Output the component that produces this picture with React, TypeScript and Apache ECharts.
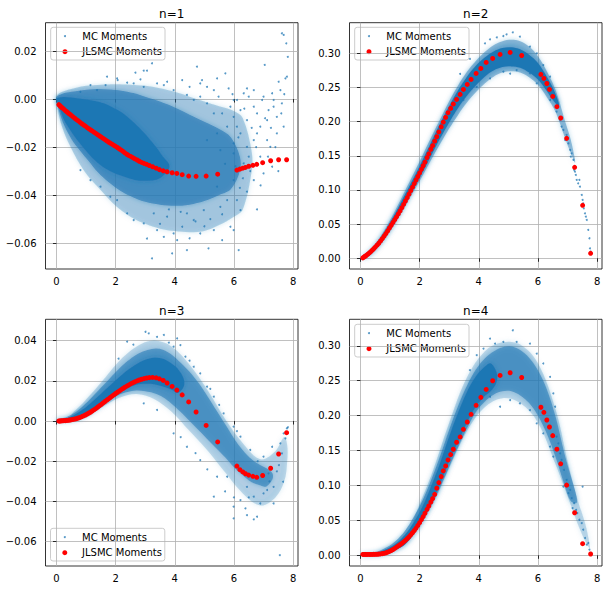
import React, { useEffect, useRef } from "react";
import * as echarts from "echarts";

const BLUE = "#1f77b4";
const RED = "#ff0000";
const FONT = "DejaVu Sans";

const TITLES = ["n=1", "n=2", "n=3", "n=4"];
const LEGEND_NAMES = ["MC Moments", "JLSMC Moments"];
const X_TICKS = [0, 2, 4, 6, 8];
const Y_TICKS_N1 = [-0.06, -0.04, -0.02, 0, 0.02];
const Y_TICKS_N2 = [0, 0.05, 0.1, 0.15, 0.2, 0.25, 0.3];
const Y_TICKS_N3 = [-0.06, -0.04, -0.02, 0, 0.02, 0.04];
const Y_TICKS_N4 = [0, 0.05, 0.1, 0.15, 0.2, 0.25, 0.3];

// JLSMC Moments (red) — shared x positions
const JLSMC_X = [
  0.08, 0.12, 0.16, 0.2, 0.25, 0.3, 0.35, 0.4, 0.45, 0.5,
  0.56, 0.62, 0.68, 0.74, 0.8, 0.86, 0.92, 0.98, 1.04, 1.1,
  1.16, 1.22, 1.28, 1.34, 1.4, 1.46, 1.52, 1.58, 1.64, 1.7,
  1.76, 1.82, 1.88, 1.94, 2.0, 2.06, 2.12, 2.18, 2.25, 2.31,
  2.38, 2.44, 2.51, 2.58, 2.65, 2.73, 2.8, 2.88, 2.96, 3.05,
  3.14, 3.25, 3.37, 3.48, 3.61, 3.74, 3.91, 4.07, 4.25, 4.47,
  4.72, 5.06, 5.45, 6.1, 6.2, 6.3, 6.39, 6.5, 6.64, 6.77,
  6.97, 7.24, 7.51, 7.78,
];
const JLSMC_N1 = [
  -0.0023, -0.0028, -0.0033, -0.0037, -0.0042, -0.0048, -0.0053, -0.0058, -0.0063, -0.0068,
  -0.0074, -0.008, -0.0086, -0.0091, -0.0097, -0.0103, -0.0108, -0.0113, -0.0119, -0.0124,
  -0.0129, -0.0134, -0.0139, -0.0144, -0.0149, -0.0154, -0.0159, -0.0164, -0.0169, -0.0174,
  -0.0179, -0.0184, -0.0188, -0.0193, -0.0197, -0.0202, -0.0207, -0.0212, -0.0218, -0.0224,
  -0.023, -0.0235, -0.0239, -0.0244, -0.0249, -0.0254, -0.0259, -0.0264, -0.0268, -0.0272,
  -0.0277, -0.0282, -0.0288, -0.0294, -0.0299, -0.0303, -0.0307, -0.031, -0.0315, -0.0321,
  -0.0322, -0.0321, -0.0313, -0.0296, -0.0292, -0.0288, -0.0285, -0.028, -0.0276, -0.0272,
  -0.0265, -0.0257, -0.0253, -0.0253,
];
const JLSMC_N2 = [
  0.0006, 0.0018, 0.003, 0.0043, 0.006, 0.0078, 0.0098, 0.0119, 0.0141, 0.0164,
  0.0192, 0.022, 0.0254, 0.0289, 0.0325, 0.0362, 0.0401, 0.0443, 0.0484, 0.0525,
  0.0565, 0.0607, 0.065, 0.0694, 0.0741, 0.079, 0.0839, 0.0888, 0.0939, 0.099,
  0.1042, 0.1094, 0.1146, 0.1198, 0.125, 0.1302, 0.1355, 0.1408, 0.1475, 0.153,
  0.1595, 0.165, 0.1715, 0.178, 0.185, 0.1925, 0.1995, 0.2063, 0.2132, 0.2195,
  0.2259, 0.2327, 0.24, 0.2473, 0.2546, 0.262, 0.2707, 0.278, 0.2868, 0.2927,
  0.2985, 0.3015, 0.297, 0.2693, 0.2634, 0.256, 0.2473, 0.237, 0.222, 0.2054,
  0.1756, 0.1332, 0.0776, 0.0073,
];
const JLSMC_N3 = [
  0.0, 0.0, 0.0001, 0.0001, 0.0002, 0.0002, 0.0003, 0.0004, 0.0005, 0.0006,
  0.0008, 0.001, 0.0012, 0.0015, 0.0018, 0.0022, 0.0026, 0.003, 0.0035, 0.004,
  0.0045, 0.0051, 0.0057, 0.0063, 0.007, 0.0077, 0.0083, 0.009, 0.0097, 0.0104,
  0.011, 0.0117, 0.0124, 0.013, 0.0137, 0.0143, 0.0149, 0.0155, 0.0162, 0.0168,
  0.0174, 0.0179, 0.0185, 0.019, 0.0195, 0.02, 0.0204, 0.0208, 0.0211, 0.0214,
  0.0216, 0.0217, 0.0215, 0.021, 0.0202, 0.0189, 0.0172, 0.0154, 0.013, 0.0095,
  0.0045, -0.0022, -0.0104, -0.0224, -0.0242, -0.0253, -0.0262, -0.0269, -0.0275, -0.028,
  -0.0271, -0.0235, -0.0164, -0.0058,
];
const JLSMC_N4 = [
  0.0013, 0.0013, 0.0013, 0.0013, 0.0013, 0.0013, 0.0013, 0.0013, 0.0014, 0.0014,
  0.0015, 0.0017, 0.002, 0.0024, 0.0029, 0.0036, 0.0045, 0.0056, 0.0069, 0.0083,
  0.01, 0.0118, 0.0135, 0.0153, 0.0172, 0.0193, 0.0215, 0.0239, 0.0265, 0.0293,
  0.0323, 0.0355, 0.039, 0.0428, 0.0468, 0.051, 0.0555, 0.0602, 0.0658, 0.0706,
  0.0762, 0.0812, 0.0873, 0.0962, 0.1042, 0.1128, 0.121, 0.128, 0.1366, 0.1443,
  0.1519, 0.1619, 0.1695, 0.1804, 0.1909, 0.2019, 0.2148, 0.2262, 0.2376, 0.25,
  0.2576, 0.2614, 0.2547, 0.212, 0.2048, 0.1938, 0.1838, 0.1714, 0.152, 0.131,
  0.1005, 0.061, 0.0167, 0.0019,
];

// MC Moments (blue): dense cloud envelopes [x, low, high]
const MC_CORE_N1 = [
  [0.0, -0.0003, 0.0003], [0.1, -0.0035, 0.0006], [0.25, -0.0085, 0.0008], [0.5, -0.0135, 0.0006],
  [0.75, -0.0178, 0.0002], [1.0, -0.0215, -0.0002], [1.3, -0.0255, -0.0008], [1.6, -0.0285, -0.0018],
  [1.9, -0.0305, -0.0035], [2.2, -0.032, -0.0055], [2.5, -0.0332, -0.0085], [2.8, -0.034, -0.012],
  [3.1, -0.034, -0.016], [3.4, -0.0335, -0.0205], [3.6, -0.032, -0.024], [3.8, -0.029, -0.027],
];
const MC_MID_N1 = [
  [0.0, -0.0008, 0.0008], [0.2, -0.009, 0.0022], [0.5, -0.0165, 0.003], [0.8, -0.0215, 0.0036],
  [1.1, -0.026, 0.004], [1.4, -0.0305, 0.0042], [1.8, -0.035, 0.004], [2.2, -0.0385, 0.0035],
  [2.6, -0.041, 0.0025], [3.0, -0.0428, 0.001], [3.5, -0.044, -0.001], [4.0, -0.0445, -0.0035],
  [4.5, -0.044, -0.0065], [5.0, -0.0425, -0.0095], [5.5, -0.04, -0.0125], [5.9, -0.0375, -0.016],
  [6.2, -0.03, -0.024],
];
const MC_OUTER_N1 = [
  [0.0, -0.0012, 0.0012], [0.2, -0.012, 0.003], [0.6, -0.023, 0.0045], [1.0, -0.031, 0.0055],
  [1.5, -0.038, 0.006], [2.0, -0.0445, 0.0062], [2.5, -0.049, 0.006], [3.0, -0.052, 0.0055],
  [3.5, -0.054, 0.0045], [4.0, -0.055, 0.003], [4.5, -0.0555, 0.001], [5.0, -0.055, -0.001],
  [5.5, -0.0525, -0.003], [6.0, -0.049, -0.005], [6.3, -0.046, -0.008], [6.6, -0.03, -0.022],
];
const MC_CORE_N2 = [
  [0.05, 0.0, 0.0012], [0.3, 0.0045, 0.0085], [0.6, 0.0175, 0.0245], [0.9, 0.035, 0.045],
  [1.2, 0.056, 0.068], [1.5, 0.079, 0.093], [1.8, 0.102, 0.118], [2.1, 0.126, 0.144],
  [2.4, 0.151, 0.171], [2.7, 0.176, 0.198], [3.0, 0.199, 0.223], [3.3, 0.22, 0.246],
  [3.6, 0.238, 0.266], [3.9, 0.253, 0.282], [4.2, 0.266, 0.294], [4.5, 0.275, 0.303],
  [4.8, 0.28, 0.308], [5.1, 0.281, 0.309], [5.4, 0.279, 0.306], [5.7, 0.272, 0.298],
  [6.0, 0.262, 0.286], [6.3, 0.245, 0.266], [6.5, 0.232, 0.25], [6.7, 0.222, 0.228],
];
const MC_OUTER_N2 = [
  [0.05, 0.0, 0.002], [0.3, 0.0035, 0.01], [0.6, 0.016, 0.027], [0.9, 0.033, 0.048],
  [1.2, 0.053, 0.072], [1.5, 0.075, 0.098], [1.8, 0.098, 0.124], [2.1, 0.121, 0.151],
  [2.4, 0.145, 0.178], [2.7, 0.168, 0.204], [3.0, 0.19, 0.23], [3.3, 0.21, 0.253],
  [3.6, 0.228, 0.273], [3.9, 0.243, 0.289], [4.2, 0.256, 0.302], [4.5, 0.266, 0.312],
  [4.8, 0.272, 0.318], [5.1, 0.274, 0.32], [5.4, 0.272, 0.318], [5.7, 0.265, 0.31],
  [6.0, 0.254, 0.296], [6.3, 0.236, 0.274], [6.6, 0.214, 0.246], [6.9, 0.178, 0.203],
  [7.1, 0.155, 0.175], [7.25, 0.14, 0.145],
];
const MC_CORE_N3 = [
  [0.0, 0.0, 0.0005], [0.3, 0.0001, 0.0012], [0.6, 0.0009, 0.003], [0.9, 0.0025, 0.0058],
  [1.2, 0.0052, 0.0095], [1.5, 0.0085, 0.0135], [1.8, 0.0115, 0.0175], [2.1, 0.0143, 0.0215],
  [2.4, 0.0165, 0.0252], [2.7, 0.018, 0.0283], [3.0, 0.0185, 0.0305], [3.3, 0.0183, 0.0315],
  [3.6, 0.0172, 0.031], [3.9, 0.0155, 0.0285], [4.1, 0.014, 0.026], [4.3, 0.017, 0.021],
];
const MC_MID_N3 = [
  [0.0, 0.0, 0.0008], [0.3, 0.0, 0.0018], [0.6, 0.0005, 0.004], [0.9, 0.002, 0.0075],
  [1.2, 0.0045, 0.0118], [1.5, 0.0075, 0.0165], [1.8, 0.0105, 0.0212], [2.1, 0.013, 0.0258],
  [2.4, 0.0145, 0.0298], [2.7, 0.0152, 0.033], [3.0, 0.0148, 0.035], [3.3, 0.0138, 0.036],
  [3.6, 0.0118, 0.0355], [3.9, 0.0085, 0.033], [4.2, 0.0045, 0.029], [4.5, 0.0, 0.0245],
  [4.8, -0.0045, 0.019], [5.1, -0.009, 0.0125], [5.4, -0.0135, 0.0055], [5.7, -0.018, -0.0015],
  [6.0, -0.023, -0.0085], [6.3, -0.027, -0.0145], [6.6, -0.0305, -0.019], [6.9, -0.032, -0.022],
  [7.1, -0.0325, -0.0235], [7.3, -0.029, -0.026],
];
const MC_OUTER_N3 = [
  [0.5, 0.001, 0.003], [0.9, 0.0015, 0.009], [1.5, 0.0065, 0.019], [2.1, 0.0115, 0.0295],
  [2.7, 0.0135, 0.037], [3.3, 0.011, 0.04], [3.9, 0.0045, 0.037], [4.5, -0.005, 0.028],
  [5.1, -0.0145, 0.0155], [5.7, -0.0255, 0.001], [6.3, -0.036, -0.011], [6.9, -0.042, -0.019],
  [7.4, -0.038, -0.015], [7.7, -0.03, -0.008], [7.8, -0.02, -0.012],
];
const MC_CORE_N4 = [
  [0.05, 0.0, 0.0015], [0.5, 0.0005, 0.003], [0.9, 0.003, 0.0095], [1.2, 0.008, 0.017],
  [1.5, 0.015, 0.029], [1.8, 0.03, 0.047], [2.1, 0.05, 0.07], [2.4, 0.075, 0.1],
  [2.7, 0.103, 0.133], [3.0, 0.135, 0.17], [3.3, 0.163, 0.204], [3.6, 0.19, 0.234],
  [3.9, 0.213, 0.256], [4.2, 0.228, 0.27], [4.4, 0.235, 0.275], [4.6, 0.248, 0.262],
];
const MC_MID_N4 = [
  [0.05, 0.0, 0.002], [0.5, 0.0005, 0.0045], [0.9, 0.003, 0.012], [1.2, 0.008, 0.021],
  [1.5, 0.016, 0.035], [1.8, 0.03, 0.055], [2.1, 0.049, 0.079], [2.4, 0.072, 0.109],
  [2.7, 0.098, 0.143], [3.0, 0.127, 0.18], [3.3, 0.155, 0.214], [3.6, 0.182, 0.243],
  [3.9, 0.205, 0.266], [4.2, 0.22, 0.282], [4.5, 0.23, 0.292], [4.8, 0.235, 0.298],
  [5.1, 0.235, 0.299], [5.4, 0.229, 0.294], [5.7, 0.218, 0.283], [6.0, 0.2, 0.265],
  [6.3, 0.174, 0.238], [6.6, 0.14, 0.198], [6.9, 0.1, 0.145], [7.1, 0.078, 0.115],
  [7.3, 0.075, 0.085],
];
const MC_OUTER_N4 = [
  [1.8, 0.035, 0.05], [2.4, 0.07, 0.115], [3.0, 0.125, 0.19], [3.6, 0.178, 0.255],
  [4.2, 0.212, 0.292], [4.8, 0.225, 0.305], [5.4, 0.218, 0.302], [6.0, 0.19, 0.275],
  [6.6, 0.13, 0.208], [7.0, 0.085, 0.135], [7.3, 0.05, 0.085], [7.6, 0.02, 0.045],
  [7.75, 0.01, 0.015],
];

// MC Moments (blue): individual sparse points
const MC_N1 = [
  [3.23, 0.0149], [2.95, 0.0118], [3.06, 0.0118], [2.05, 0.0086], [2.07, 0.0079], [1.71, 0.0093],
  [1.66, 0.0058], [2.61, 0.0065], [4.75, 0.0135], [4.92, 0.0079], [5.43, 0.0086], [5.71, 0.0107],
  [5.82, 0.0044], [6.44, 0.0044], [7.0, 0.001], [7.04, 0.0142], [7.51, 0.0072], [7.62, 0.0274],
  [7.68, 0.0267], [7.77, 0.0232], [7.82, 0.0176], [7.79, 0.0093], [7.74, 0.0086], [7.57, 0.0037],
  [7.34, -0.0004], [7.17, -0.0046], [6.67, -0.0032], [4.25, 0.0079], [4.5, 0.0051], [3.96, 0.0037],
  [3.63, 0.0058], [2.39, 0.0068], [1.15, 0.0058], [1.37, 0.0037], [0.81, 0.003], [5.48, 0.001],
  [5.99, -0.0004], [6.33, 0.0024], [6.22, -0.0046], [5.99, -0.0074], [6.89, -0.0115], [7.12, -0.0088],
  [7.45, -0.0074], [6.67, -0.0171], [6.22, -0.0143], [7.23, -0.0199], [6.89, -0.024], [6.5, -0.024],
  [5.99, -0.0226], [5.54, -0.0213], [5.43, -0.0365], [5.99, -0.0338], [6.67, -0.0338], [6.1, -0.0421],
  [6.78, -0.046], [5.88, -0.0532], [5.99, -0.0546], [6.16, -0.0629], [5.6, -0.0588], [5.14, -0.0622],
  [4.86, -0.056], [4.41, -0.0629], [4.08, -0.0588], [3.96, -0.056], [3.91, -0.0643], [3.63, -0.0574],
  [3.23, -0.0664], [3.06, -0.0581], [3.4, -0.0546], [2.95, -0.0518], [2.61, -0.0504], [2.39, -0.0476],
  [4.25, -0.0532], [4.64, -0.0504], [5.32, -0.0546], [4.98, -0.0463], [5.54, -0.0449], [4.41, -0.0476],
  [3.74, -0.049], [3.29, -0.0476], [2.05, -0.0421], [1.82, -0.0407], [1.49, -0.0365], [1.15, -0.0338],
  [0.81, -0.0296], [6.22, -0.0463], [6.44, -0.0386], [5.77, -0.0421], [6.33, -0.0268], [7.0, -0.031],
  [7.29, -0.0282], [7.12, -0.0171], [7.45, -0.0143], [7.68, -0.0115], [7.62, -0.0018], [7.34, -0.0032],
  [6.78, -0.006], [6.1, -0.0115], [5.77, -0.0115], [5.32, -0.006], [5.09, -0.0018], [4.86, 0.001],
  [4.64, -0.0004], [4.41, 0.0017], [5.88, -0.0032], [5.43, -0.0143], [5.09, -0.0171], [5.99, -0.0185],
  [6.44, -0.0199], [6.78, -0.0143], [6.44, -0.0088], [6.95, -0.0004], [7.29, 0.0024], [6.67, 0.0037],
  [6.1, -0.0004], [5.32, 0.0037], [5.09, 0.0051], [4.86, 0.0065], [3.74, 0.0072], [3.4, 0.0065],
  [2.95, 0.0051], [2.84, 0.0082], [2.67, 0.011], [6.05, -0.028], [6.3, -0.033], [6.55, -0.03],
  [6.9, -0.036], [7.15, -0.024], [7.4, -0.02], [7.6, -0.006], [7.7, 0.002], [6.6, -0.012],
  [6.15, -0.016], [7.05, -0.008], [6.75, -0.02], [6.35, -0.004], [7.25, -0.012], [5.7, -0.027],
  [5.6, -0.006], [5.95, 0.002], [6.5, 0.001], [7.5, -0.03], [6.2, -0.037], [4.2, -0.047],
  [4.7, -0.051], [5.2, -0.05], [5.6, -0.048], [3.5, -0.052], [4.5, -0.058], [5.0, -0.053], [3.8, -0.046],
];
const MC_N2 = [
  [6.97, 0.1806], [7.03, 0.1684], [7.09, 0.1586], [7.14, 0.1537], [7.2, 0.144], [7.25, 0.1342],
  [7.25, 0.1269], [7.31, 0.1147], [7.36, 0.1098], [7.4, 0.1147], [7.42, 0.1049], [7.48, 0.0927],
  [7.51, 0.0854], [7.55, 0.0732], [7.59, 0.0659], [7.65, 0.0561], [7.7, 0.0415], [7.74, 0.0293],
  [7.76, 0.0146], [7.78, 0.0098], [6.86, 0.1879], [6.8, 0.1928], [6.92, 0.1732], [7.11, 0.1488],
  [7.28, 0.122], [7.22, 0.1293], [7.53, 0.0805], [7.62, 0.061], [5.15, 0.3309], [4.83, 0.3255],
  [4.38, 0.3206], [5.39, 0.3245], [4.94, 0.328], [4.61, 0.3235], [4.21, 0.3148], [5.73, 0.31],
  [5.96, 0.3001], [6.18, 0.283], [6.41, 0.266], [3.7, 0.292], [3.37, 0.27], [4.83, 0.2733],
  [5.28, 0.2756], [5.73, 0.2707], [5.96, 0.2562], [6.41, 0.2318], [6.63, 0.2147], [6.75, 0.2025],
  [4.38, 0.2634], [3.93, 0.2511], [3.48, 0.2318], [3.14, 0.2123], [2.8, 0.1903], [5.06, 0.2704],
];
const MC_N3 = [
  [2.39, 0.0395], [3.01, 0.0444], [3.12, 0.0436], [3.4, 0.0419], [3.63, 0.0428], [4.08, 0.0411],
  [4.19, 0.0378], [3.96, 0.037], [4.36, 0.032], [4.64, 0.027], [4.86, 0.0237], [5.09, 0.0171],
  [5.32, 0.0121], [5.65, 0.0038], [5.99, -0.0028], [6.22, -0.0078], [6.55, -0.0144], [7.0, -0.0177],
  [7.29, -0.0128], [7.57, -0.0111], [7.68, -0.0061], [7.79, -0.0036], [7.82, -0.0031], [7.74, -0.0086],
  [7.62, -0.0161], [7.52, -0.0219], [5.99, -0.0426], [5.99, -0.0484], [6.44, -0.0468], [6.67, -0.0489],
  [6.78, -0.0476], [6.22, -0.0393], [6.89, -0.041], [7.12, -0.0343], [7.34, -0.0327], [7.34, -0.041],
  [7.66, -0.0302], [7.55, -0.0667], [5.32, -0.0376], [4.86, -0.0194], [5.43, -0.0277], [4.41, -0.0128],
  [3.96, -0.0061], [3.4, 0.0055], [2.95, 0.0088], [5.77, -0.0277], [6.67, -0.0376], [6.39, -0.0434],
  [7.0, -0.036], [7.17, -0.026], [6.44, -0.0327], [6.67, -0.0277], [2.1, 0.031], [2.6, 0.038],
  [3.8, 0.039], [4.5, 0.03], [5.2, 0.016], [5.5, 0.008], [6.1, -0.005], [6.8, -0.02],
  [7.2, -0.03], [7.45, -0.025], [5.7, -0.035], [6.0, -0.038], [6.5, -0.038], [5.1, -0.024],
  [4.7, -0.016], [4.2, -0.008],
];
const MC_N4 = [
  [6.97, 0.1081], [7.09, 0.0938], [7.14, 0.0819], [7.22, 0.0747], [7.29, 0.0652], [7.33, 0.0605],
  [7.4, 0.0509], [7.48, 0.0462], [7.51, 0.0985], [7.53, 0.0367], [7.59, 0.0248], [7.65, 0.0152],
  [7.7, 0.0176], [7.74, 0.0081], [7.78, 0.0033], [6.88, 0.1223], [6.8, 0.1366], [6.75, 0.1461],
  [6.69, 0.1604], [6.63, 0.17], [6.86, 0.0985], [7.03, 0.089], [7.17, 0.0676], [5.15, 0.3223],
  [4.38, 0.3104], [4.55, 0.3032], [4.83, 0.3056], [5.28, 0.3056], [5.73, 0.3032], [5.96, 0.2889],
  [6.18, 0.2747], [4.16, 0.2961], [3.93, 0.2866], [3.7, 0.2651], [6.41, 0.2556], [6.52, 0.2318],
  [6.58, 0.2128], [4.72, 0.2128], [5.06, 0.2223], [5.39, 0.2175], [5.73, 0.208], [5.96, 0.189],
  [6.18, 0.1747], [6.41, 0.1557], [6.52, 0.1414], [4.38, 0.2271], [4.04, 0.2223], [3.59, 0.189],
  [3.37, 0.1747], [3.14, 0.1557],
];

const PANELS = [
  {
    title: TITLES[0], yMin: -0.0708, yMax: 0.0318, yStep: 0.02, yTicks: Y_TICKS_N1,
    bands: [[MC_OUTER_N1, 0.3], [MC_MID_N1, 0.6], [MC_CORE_N1, 1]], mc: MC_N1, red: JLSMC_N1,
    grid: { left: 45.5, top: 22.7, width: 252.5, height: 246.3 }, legend: { x: 50.7, y: 27.3 },
  },
  {
    title: TITLES[1], yMin: -0.0157, yMax: 0.345, yStep: 0.05, yTicks: Y_TICKS_N2,
    bands: [[MC_OUTER_N2, 0.45], [MC_CORE_N2, 1]], mc: MC_N2, red: JLSMC_N2,
    grid: { left: 349.5, top: 22.7, width: 252.5, height: 246.3 }, legend: { x: 354.7, y: 27.3 },
  },
  {
    title: TITLES[2], yMin: -0.0721, yMax: 0.0506, yStep: 0.02, yTicks: Y_TICKS_N3,
    bands: [[MC_OUTER_N3, 0.25], [MC_MID_N3, 0.55], [MC_CORE_N3, 1]], mc: MC_N3, red: JLSMC_N3,
    grid: { left: 45.5, top: 319.3, width: 252.5, height: 246.7 }, legend: { x: 50.5, y: 528.3 },
  },
  {
    title: TITLES[3], yMin: -0.0153, yMax: 0.338, yStep: 0.05, yTicks: Y_TICKS_N4,
    bands: [[MC_OUTER_N4, 0.25], [MC_MID_N4, 0.55], [MC_CORE_N4, 1]], mc: MC_N4, red: JLSMC_N4,
    grid: { left: 349.5, top: 319.3, width: 252.5, height: 246.7 }, legend: { x: 354.7, y: 324.3 },
  },
];

function fmtY(v: number) {
  if (Math.abs(v) < 1e-9) return "0.00";
  return v.toFixed(2).replace("-", "\u2212");
}

function bandSeries(band: number[][], opacity: number, gi: number) {
  return {
    type: "custom",
    xAxisIndex: gi,
    yAxisIndex: gi,
    silent: true,
    z: 1,
    clip: true,
    data: band,
    encode: { x: 0, y: [1, 2] },
    renderItem: (params: any, api: any) => {
      if (params.dataIndex !== 0) return null;
      const top = band.map((p) => api.coord([p[0], p[2]]));
      const bottom = band.slice().reverse().map((p) => api.coord([p[0], p[1]]));
      return {
        type: "polygon",
        shape: { points: top.concat(bottom), smooth: 0.35 },
        style: {
          fill: BLUE,
          opacity,
          shadowBlur: 5,
          shadowColor: "rgba(31,119,180,0.6)",
        },
      };
    },
  };
}

export default function App() {
  const ref = useRef<HTMLDivElement>(null);
  useEffect(() => {
    if (!ref.current) return;
    const chart = echarts.init(ref.current, undefined, { renderer: "svg" });
    const axisCommon = {
      axisLine: { show: false },
      axisTick: { show: true, length: 3.5, lineStyle: { color: "#000", width: 0.8 } },
      splitLine: { show: true, lineStyle: { color: "#b0b0b0", width: 0.8 } },
    };
    const xAxis = PANELS.map((p, i) => ({
      type: "value", gridIndex: i, min: -0.37, max: 8.165,
      splitNumber: 4, minInterval: 2, maxInterval: 2,
      ...axisCommon,
      axisTick: { ...axisCommon.axisTick, customValues: X_TICKS },
      axisLabel: {
        customValues: X_TICKS, margin: 7, fontSize: 10, fontFamily: FONT, color: "#000",
        formatter: (v: number) => String(v),
      },
    }));
    const yAxis = PANELS.map((p, i) => ({
      type: "value", gridIndex: i, min: p.yMin, max: p.yMax,
      splitNumber: 5, minInterval: p.yStep, maxInterval: p.yStep,
      ...axisCommon,
      axisTick: { ...axisCommon.axisTick, customValues: p.yTicks },
      axisLabel: {
        customValues: p.yTicks, margin: 9, fontSize: 10, fontFamily: FONT, color: "#000",
        formatter: (v: number) => fmtY(v),
      },
    }));
    const series: any[] = [];
    PANELS.forEach((p, i) => {
      p.bands.forEach((b: any) => series.push(bandSeries(b[0], b[1], i)));
      series.push({
        type: "scatter", name: LEGEND_NAMES[0], xAxisIndex: i, yAxisIndex: i,
        data: p.mc, symbolSize: 2, silent: true, z: 2,
        itemStyle: { color: BLUE, opacity: 0.75 },
      });
      series.push({
        type: "scatter", name: LEGEND_NAMES[1], xAxisIndex: i, yAxisIndex: i,
        data: JLSMC_X.map((x, k) => [x, p.red[k]]), symbolSize: 5, silent: true, z: 3,
        itemStyle: { color: RED, opacity: 1 },
      });
    });
    const graphic: any[] = [];
    PANELS.forEach((p) => {
      graphic.push({
        type: "text", z: 100,
        x: p.grid.left + p.grid.width / 2, y: p.grid.top - 8.8,
        style: { text: p.title, fontSize: 12, fontFamily: FONT, fill: "#000", align: "center", verticalAlign: "middle" },
      });
      graphic.push({
        type: "group", x: p.legend.x, y: p.legend.y, z: 100,
        children: [
          { type: "rect", shape: { x: 0, y: 0, width: 114.3, height: 32.7, r: 2.5 },
            style: { fill: "rgba(255,255,255,0.8)", stroke: "#cccccc", lineWidth: 1 } },
          { type: "circle", shape: { cx: 14.3, cy: 8.8, r: 1 }, style: { fill: BLUE, opacity: 0.8 } },
          { type: "text", x: 31.6, y: 8.8,
            style: { text: LEGEND_NAMES[0], fontSize: 10, fontFamily: FONT, fill: "#000", verticalAlign: "middle" } },
          { type: "circle", shape: { cx: 14.3, cy: 24.4, r: 2.5 }, style: { fill: RED } },
          { type: "text", x: 31.6, y: 24.4,
            style: { text: LEGEND_NAMES[1], fontSize: 10, fontFamily: FONT, fill: "#000", verticalAlign: "middle" } },
        ],
      });
    });
    chart.setOption({
      animation: false,
      backgroundColor: "#ffffff",
      grid: PANELS.map((p) => ({ ...p.grid, show: true, borderColor: "#000", borderWidth: 0.8, backgroundColor: "transparent" })),
      xAxis,
      yAxis,
      series,
      graphic,
    });
    return () => chart.dispose();
  }, []);
  return (
    <div
      ref={ref}
      style={{ position: "absolute", left: 0, top: 0, width: 609, height: 590, background: "#fff" }}
    />
  );
}
